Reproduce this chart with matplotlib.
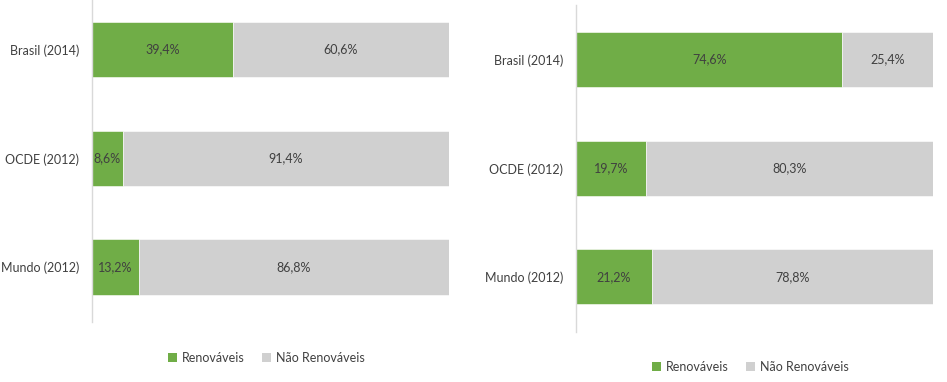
import matplotlib
matplotlib.use("Agg")
import matplotlib.pyplot as plt
from matplotlib.patches import Patch

plt.rcParams['font.family'] = ['Lato', 'DejaVu Sans']

categories = ["Brasil (2014)", "OCDE (2012)", "Mundo (2012)"]
renov_left = [39.4, 8.6, 13.2]
nao_renov_left = [60.6, 91.4, 86.8]
renov_right = [74.6, 19.7, 21.2]
nao_renov_right = [25.4, 80.3, 78.8]
series_names = ["Renováveis", "Não Renováveis"]

GREEN = "#70AD47"
GREY = "#D0D0D0"
TEXT = "#404040"
FS = 9

fig = plt.figure(figsize=(9.47, 3.82), dpi=100)


def draw_panel(ax, renov, nao, ylim):
    y = list(range(len(categories)))
    ax.barh(y, renov, height=0.506, color=GREEN, edgecolor="white", linewidth=0.4)
    ax.barh(y, nao, left=renov, height=0.506, color=GREY, edgecolor="white", linewidth=0.4)
    for yi, r, n in zip(y, renov, nao):
        ax.text(r / 2, yi, f"{r:.1f}%".replace(".", ","), ha="center", va="center",
                fontsize=FS, color=TEXT)
        ax.text(r + n / 2, yi, f"{n:.1f}%".replace(".", ","), ha="center", va="center",
                fontsize=FS, color=TEXT)
    ax.set_xlim(0, 100)
    ax.set_ylim(*ylim)
    ax.set_yticks(y)
    ax.set_yticklabels(categories, fontsize=FS, color=TEXT)
    ax.tick_params(axis="y", length=0, pad=9)
    ax.set_xticks([])
    for s in ["top", "right", "bottom"]:
        ax.spines[s].set_visible(False)
    ax.spines["left"].set_color("#D9D9D9")
    ax.spines["left"].set_linewidth(1)


ax1 = fig.add_axes([0.0971, 0.157, 0.377, 0.843])
draw_panel(ax1, renov_left, nao_renov_left, (2.506, -0.455))

ax2 = fig.add_axes([0.6082, 0.1309, 0.377, 0.856])
draw_panel(ax2, renov_right, nao_renov_right, (2.506, -0.501))

handles = [Patch(facecolor=GREEN), Patch(facecolor=GREY)]
for cx, cy in [(0.281, 0.0628), (0.792, 0.039)]:
    fig.legend(handles, series_names, loc="center", bbox_to_anchor=(cx, cy), ncol=2,
               frameon=False, fontsize=FS, labelcolor=TEXT, handlelength=0.7,
               handleheight=0.7, handletextpad=0.4, columnspacing=1.4)

fig.savefig("out.png", dpi=100)
